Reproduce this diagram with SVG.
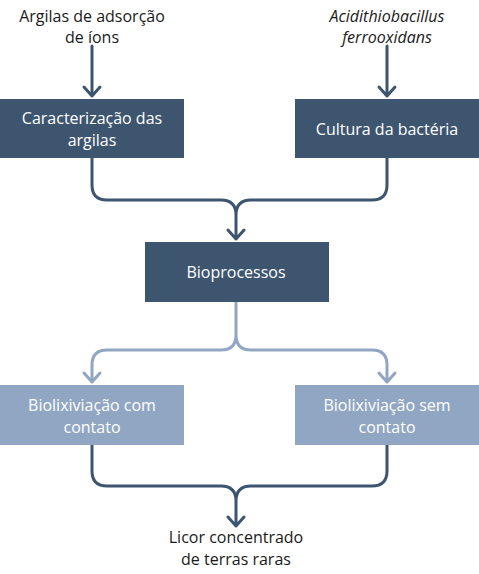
<svg xmlns="http://www.w3.org/2000/svg" width="479" height="574" viewBox="0 0 479 574">
<style>
text{font-family:"Open Sans","Noto Sans","Liberation Sans",sans-serif;font-size:16px;text-anchor:middle}
.lbl{fill:#1a1a1a}
.bt{fill:#ffffff}
.dark{fill:#3e5570}
.light{fill:#91a6c3}
.cd{fill:none;stroke:#3e5570;stroke-width:3;stroke-linecap:round;stroke-linejoin:round}
.cl{fill:none;stroke:#91a6c3;stroke-width:3;stroke-linecap:round;stroke-linejoin:round}
</style>
<rect width="479" height="574" fill="#ffffff"/>
<g id="connectors">
<path class="cd" d="M92,46 V96 M84,87 L92,96 L100,87"/>
<path class="cd" d="M387,46 V96 M379,87 L387,96 L395,87"/>
<path class="cd" d="M92,158 V185 Q92,200 107,200 H221 Q236,200 236,215 V239 M372,200 H251 Q236,200 236,215 M387,158 V185 Q387,200 372,200 M228,230 L236,239 L244,230"/>
<path class="cl" d="M236,302 V335 Q236,350 221,350 H107 Q92,350 92,365 V382 M236,335 Q236,350 251,350 H372 Q387,350 387,365 V382 M84,373 L92,382 L100,373 M379,373 L387,382 L395,373"/>
<path class="cd" d="M92,445 V471 Q92,486 107,486 H221 Q236,486 236,501 V526 M387,445 V471 Q387,486 372,486 H251 Q236,486 236,501 M228,517 L236,526 L244,517"/>
</g>
<g id="input1">
<text class="lbl" x="92" y="22">Argilas de adsorção</text>
<text class="lbl" x="92" y="43">de íons</text>
</g>
<g id="input2">
<text class="lbl" x="387" y="22" font-style="italic">Acidithiobacillus</text>
<text class="lbl" x="387" y="43" font-style="italic">ferrooxidans</text>
</g>
<g id="caracterizacao">
<rect class="dark" x="0" y="99" width="184" height="59"/>
<text class="bt" x="92" y="124">Caracterização das</text>
<text class="bt" x="92" y="146">argilas</text>
</g>
<g id="cultura">
<rect class="dark" x="295" y="99" width="184" height="59"/>
<text class="bt" x="387" y="135">Cultura da bactéria</text>
</g>
<g id="bioprocessos">
<rect class="dark" x="145" y="242" width="184" height="60"/>
<text class="bt" x="236" y="278">Bioprocessos</text>
</g>
<g id="biolix-com">
<rect class="light" x="0" y="385" width="184" height="60"/>
<text class="bt" x="92" y="411">Biolixiviação com</text>
<text class="bt" x="92" y="433">contato</text>
</g>
<g id="biolix-sem">
<rect class="light" x="295" y="385" width="184" height="60"/>
<text class="bt" x="387" y="411">Biolixiviação sem</text>
<text class="bt" x="387" y="433">contato</text>
</g>
<g id="licor">
<text class="lbl" x="236" y="543">Licor concentrado</text>
<text class="lbl" x="236" y="565">de terras raras</text>
</g>
</svg>
